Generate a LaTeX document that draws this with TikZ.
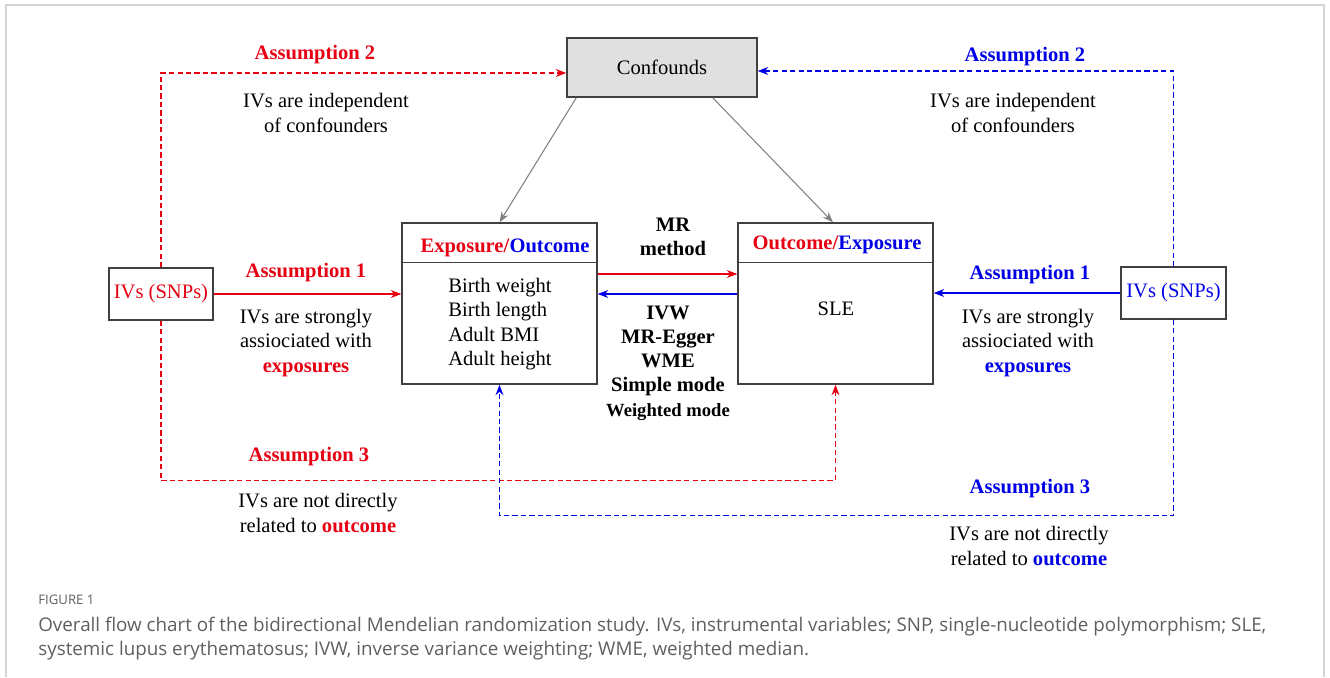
\documentclass[tikz,border=0pt]{standalone}
\usepackage{fontspec}
\setmainfont{Liberation Serif}
\newfontfamily\capfont{Open Sans}
\usetikzlibrary{arrows.meta,positioning,calc}
\definecolor{mrred}{RGB}{230,0,18}
\definecolor{mrblue}{RGB}{0,0,230}
\definecolor{boxline}{RGB}{64,64,64}
\definecolor{confill}{RGB}{224,224,224}
\definecolor{capgray}{RGB}{95,95,95}
\definecolor{framegray}{RGB}{212,212,212}
\newcommand{\rb}[1]{\textcolor{mrred}{\textbf{#1}}}
\newcommand{\bb}[1]{\textcolor{mrblue}{\textbf{#1}}}
\begin{document}
\begin{tikzpicture}[x=0.02cm,y=-0.02cm,
  txt/.style={font=\fontsize{11.7}{14}\selectfont, align=center, inner sep=0pt},
  box/.style={draw=boxline, line width=0.8pt, inner sep=0pt},
  arr/.style={line width=0.6pt, -{Stealth[length=6pt,width=4.5pt]}},
  dsh/.style={arr, line width=0.9pt, dash pattern=on 3pt off 1.8pt}]
\useasboundingbox (0,0) rectangle (1330,677);
% frame
\draw[framegray, line width=1pt] (6,677) -- (6,5) -- (1324,5) -- (1324,677);

% boxes
\node[box, fill=confill, minimum width=3.8cm, minimum height=1.18cm, txt] (conf) at (662,67.5) {Confounds};
\node[box, minimum width=3.9cm, minimum height=3.22cm] (expbox) at (499.5,303.5) {};
\node[box, minimum width=3.9cm, minimum height=3.22cm] (outbox) at (835.5,303.5) {};
\node[box, minimum width=2.08cm, minimum height=1.04cm, txt, text=mrred] (ivl) at (161,294) {IVs (SNPs)};
\node[box, minimum width=2.1cm, minimum height=1.04cm, txt, text=mrblue] (ivr) at (1173.5,293) {IVs (SNPs)};
\draw[boxline, line width=0.8pt] ([yshift=-0.8cm]expbox.north west) -- ([yshift=-0.8cm]expbox.north east);
\draw[boxline, line width=0.8pt] ([yshift=-0.8cm]outbox.north west) -- ([yshift=-0.8cm]outbox.north east);

% box texts
\node[txt] (exphead) at (505,248) {\rb{Exposure/}\bb{Outcome}};
\node[txt] (outhead) at (837,245) {\rb{Outcome/}\bb{Exposure}};
\node[txt, align=left, anchor=west] (traits) at (448,324) {Birth weight\\Birth length\\Adult BMI\\Adult height};
\node[txt] (sle) at (836,309) {SLE};
\node[txt, font=\fontsize{11.7}{14}\selectfont\bfseries] (mr) at (673,237) {MR\\method};
\node[txt, font=\fontsize{11.7}{13.8}\selectfont\bfseries] (methods) at (668,363) {IVW\\MR-Egger\\WME\\Simple mode\\{\fontsize{10.6}{13.8}\selectfont Weighted mode}};

% gray arrows from confounds
\draw[arr, gray] ([xshift=0.2cm]conf.south west) -- (expbox.north);
\draw[arr, gray] ([xshift=-0.9cm]conf.south east) -- ([xshift=-0.05cm]outbox.north);

% solid arrows
\draw[arr, mrred] (ivl.east) -- (expbox.west |- ivl.east);
\draw[arr, mrred] ([yshift=0.59cm]expbox.east) -- ([yshift=0.59cm]outbox.west);
\draw[arr, mrblue] ([yshift=0.19cm]outbox.west) -- ([yshift=0.19cm]expbox.east);
\draw[arr, mrblue] (ivr.west) -- (outbox.east |- ivr.west);

% dashed arrows
\draw[dsh, draw=mrred] (ivl.north) |- ([yshift=-0.11cm]conf.west);
\draw[dsh, draw=mrblue] (ivr.north) |- ([yshift=-0.07cm]conf.east);
\coordinate (redlow) at ($(ivl.south)+(0,160)$);
\coordinate (bluelow) at ($(ivr.south)+(0,196)$);
\draw[dsh, draw=mrred] (ivl.south) -- (redlow) -| (outbox.south);
\draw[dsh, draw=mrblue] (ivr.south) -- (bluelow) -| (expbox.south);

% assumption labels
\node[txt] (a2l) at (315,55) {\rb{Assumption 2}};
\node[txt] (t2l) at (326,113) {IVs are independent\\of confounders};
\node[txt] (a2r) at (1025,57) {\bb{Assumption 2}};
\node[txt] (t2r) at (1013,113) {IVs are independent\\of confounders};
\node[txt] (a1l) at (306,273) {\rb{Assumption 1}};
\node[txt] (t1l) at (306,343) {IVs are strongly\\assiociated with\\\rb{exposures}};
\node[txt] (a1r) at (1030,275) {\bb{Assumption 1}};
\node[txt] (t1r) at (1028,343) {IVs are strongly\\assiociated with\\\bb{exposures}};
\node[txt] (a3l) at (309,457) {\rb{Assumption 3}};
\node[txt] (t3l) at (318,513) {IVs are not directly\\related to \rb{outcome}};
\node[txt] (a3r) at (1030,489) {\bb{Assumption 3}};
\node[txt] (t3r) at (1029,546) {IVs are not directly\\related to \bb{outcome}};

% caption
\node[anchor=west, inner sep=0pt, text=capgray, font=\capfont\fontsize{7.5}{8}\selectfont] (figlbl) at (38,600) {FIGURE 1};
\node[anchor=base west, inner sep=0pt, text=capgray, align=left, font=\capfont\fontsize{10.7}{13.6}\selectfont] (caption) at (38,655) {Overall flow chart of the bidirectional Mendelian randomization study. IVs, instrumental variables; SNP, single-nucleotide polymorphism; SLE,\\systemic lupus erythematosus; IVW, inverse variance weighting; WME, weighted median.};
\end{tikzpicture}
\end{document}
